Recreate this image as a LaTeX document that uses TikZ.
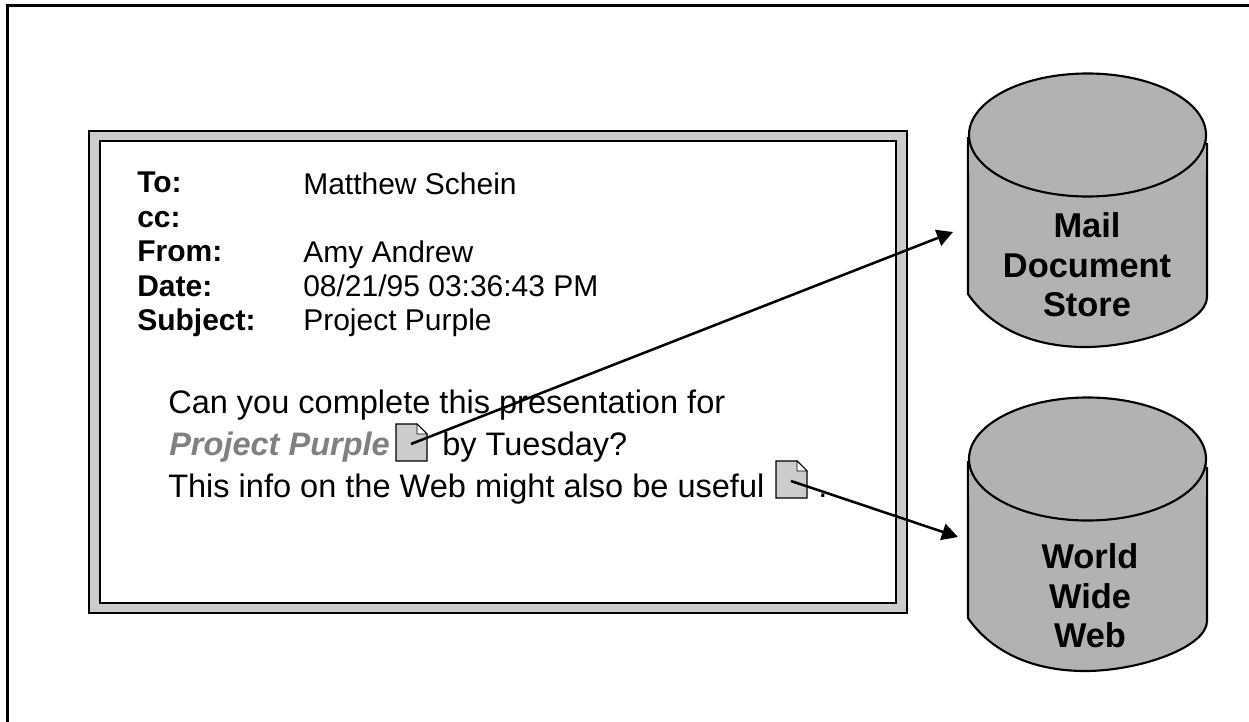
\documentclass[tikz,border=0pt]{standalone}
\usepackage{fontspec}
\setmainfont{Liberation Sans}
\usetikzlibrary{arrows.meta}
\definecolor{cylgray}{gray}{0.7}
\definecolor{framegray}{gray}{0.8}
\definecolor{purplegray}{gray}{0.5}
\tikzset{
  x=0.75pt,y=-0.75pt,
  frameline/.style={draw=black,line width=2pt},
  hdrlabel/.style={anchor=base west,inner sep=0pt,font=\fontsize{22.5}{27}\selectfont\bfseries},
  hdrvalue/.style={anchor=base west,inner sep=0pt,font=\fontsize{22.5}{27}\selectfont},
  bodytext/.style={anchor=base west,inner sep=0pt,font=\fontsize{24.4}{29}\selectfont},
  cyltext/.style={align=center,inner sep=0pt,font=\fontsize{25.8}{29.6}\selectfont\bfseries},
  cylline/.style={draw=black,line width=1.6pt},
  docicon/.style={draw=black,line width=1pt,fill=framegray},
  conn/.style={draw=black,line width=1.9pt,-{Triangle[length=12pt,width=12.5pt]}},
}
\newcommand{\dbcyl}[1]{%
  \draw[cylline,fill=cylgray,line join=round] (968,#1+64) -- (968,#1+221)
    .. controls (990,#1+253) and (1030,#1+274) .. (1085,#1+274)
    .. controls (1140,#1+274) and (1207,#1+250) .. (1207,#1+224) -- (1207,#1+70);
  \fill[cylgray] (968,#1+64) rectangle (1207,#1+100);
  \draw[cylline] (968,#1+64) -- (968,#1+100) (1207,#1+70) -- (1207,#1+100);
  \draw[cylline,fill=cylgray] (1087.5,#1+62) ellipse[x radius=118.5,y radius=61.5];
}
\newcommand{\docglyph}[3]{%
  \draw[docicon] (#1,#2) -- (#1+21,#2) -- (#1+31,#2+10) -- (#1+31,#2+37) -- (#1,#2+37) -- cycle;
  \draw[draw=black,line width=0.6pt,fill=white] (#1+21,#2) -- (#1+31,#2+10) -- (#1+21,#2+10) -- cycle;
  \coordinate (#3) at (#1+15,#2+20);
}
\begin{document}
\begin{tikzpicture}
\useasboundingbox (0,0) rectangle (1249,721);
\fill[white] (0,0) rectangle (1249,721);
% outer border
\draw[frameline] (7.3,760) -- (7.3,5.5) -- (1300,5.5);
% mail window
\draw[draw=black,line width=1.8pt,fill=framegray] (89,131) rectangle (907,613);
\draw[draw=black,line width=2.2pt,fill=white] (100,141) rectangle (896,603);
% header
\node[hdrlabel] (lto) at (137,192) {To:};
\node[hdrlabel] (lcc) at (137,227) {cc:};
\node[hdrlabel] (lfrom) at (137,261) {From:};
\node[hdrlabel] (ldate) at (137,296) {Date:};
\node[hdrlabel] (lsubj) at (137,330) {Subject:};
\node[hdrvalue] (vto) at (303,194) {Matthew Schein};
\node[hdrvalue] (vfrom) at (303,262) {Amy Andrew};
\node[hdrvalue] (vdate) at (303,296) {08/21/95 03:36:43 PM};
\node[hdrvalue] (vsubj) at (303,330) {Project Purple};
% body
\node[bodytext] (b1) at (168,413) {Can you complete this presentation for};
\node[bodytext,font=\fontsize{24.4}{29}\selectfont\bfseries\itshape,text=purplegray] (b2) at (169,455) {Project Purple};
\node[bodytext] (b3) at (442,455) {by Tuesday?};
\node[bodytext] (b4) at (168,497) {This info on the Web might also be useful};
\node[bodytext] (b5) at (818,497) {.};
% icons
\docglyph{396}{424}{doca}
\docglyph{776}{461}{docb}
% cylinders
\dbcyl{73}
\dbcyl{397}
\node[cyltext] (mail) at (1087,265) {Mail\\Document\\Store};
\node[cyltext] (www) at (1090,596) {World\\Wide\\Web};
\coordinate (maillanding) at (953,232);
\coordinate (wwwlanding) at (958,537);
\draw[conn] (doca) -- (maillanding);
\draw[conn] (docb) -- (wwwlanding);
\end{tikzpicture}
\end{document}
